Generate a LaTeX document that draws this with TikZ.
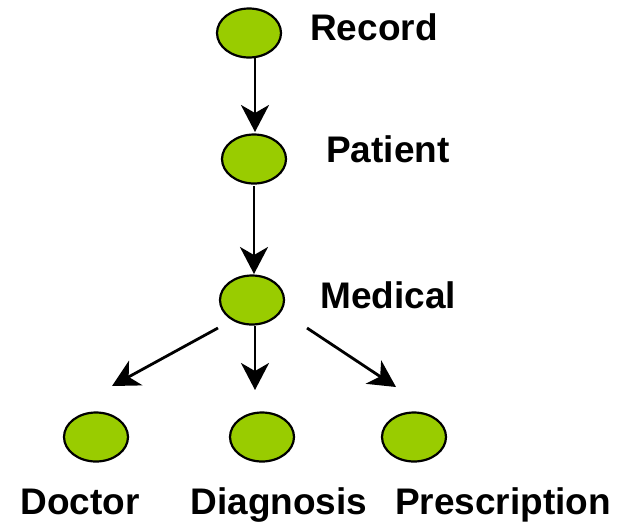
\documentclass[tikz,border=0pt]{standalone}
\usepackage{fontspec}
\setmainfont{Liberation Sans}
\usetikzlibrary{arrows.meta,shapes.geometric}
\definecolor{leaf}{HTML}{99CC00}
\tikzset{
  blob/.style={ellipse,draw=black,line width=2.2pt,fill=leaf,minimum width=64pt,minimum height=49pt,inner sep=0pt},
  lbl/.style={font=\fontsize{37}{42}\selectfont\bfseries,inner sep=0pt},
  headtip/.tip={Stealth[length=27pt,width=28pt,inset=8pt]},
  conn/.style={line width=2.8pt,-headtip}
}
\begin{document}
\begin{tikzpicture}[x=1pt,y=-1pt]
\useasboundingbox (0,0) rectangle (626,531);
\node[blob] (rec) at (249,33) {};
\node[blob] (pat) at (254,159) {};
\node[blob] (med) at (252,300) {};
\node[blob] (doc) at (96,437) {};
\node[blob] (dia) at (262,437) {};
\node[blob] (pre) at (414,437) {};
\node[lbl,anchor=base west] (trec) at (310,40) {Record};
\node[lbl,anchor=base west] (tpat) at (326,162) {Patient};
\node[lbl,anchor=base west] (tmed) at (320,308) {Medical};
\node[lbl,anchor=base] (tdoc) at (80,514) {Doctor};
\node[lbl,anchor=base] (tdia) at (279,514) {Diagnosis};
\node[lbl,anchor=base] (tpre) at (503,514) {Prescription};
\coordinate (a1s) at (255,58);
\coordinate (a1e) at (255,132);
\coordinate (a2s) at (254,186);
\coordinate (a2e) at (254,274);
\coordinate (a3s) at (218,328);
\coordinate (a3e) at (112,386);
\coordinate (a4s) at (255,326);
\coordinate (a4e) at (255,390);
\coordinate (a5s) at (307,328);
\coordinate (a5e) at (396,387);
\draw[conn] (a1s) -- (a1e);
\draw[conn] (a2s) -- (a2e);
\draw[conn] (a3s) -- (a3e);
\draw[conn] (a4s) -- (a4e);
\draw[conn] (a5s) -- (a5e);
\end{tikzpicture}
\end{document}
